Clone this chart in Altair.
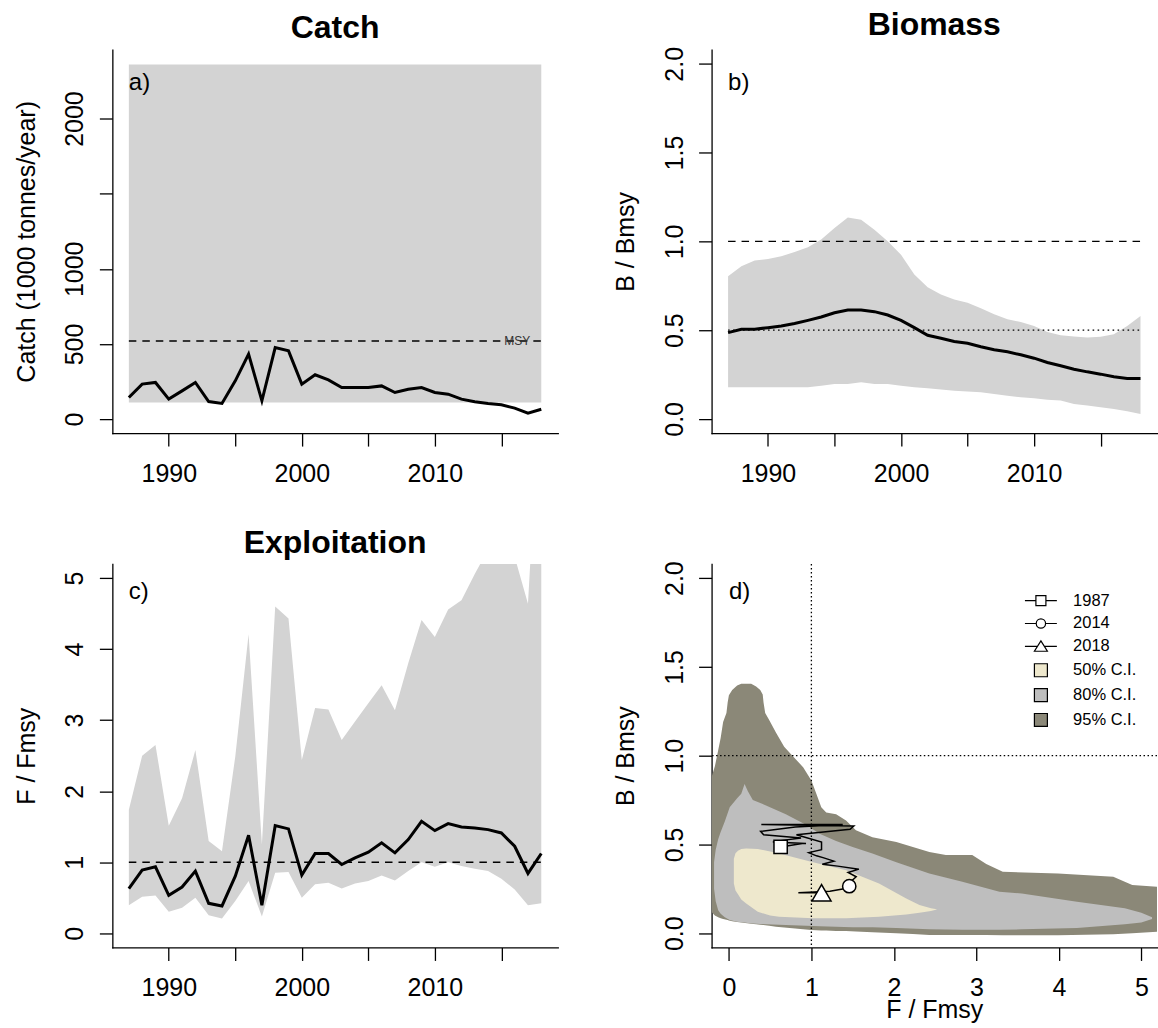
import altair as alt
import pandas as pd

FONT = "Liberation Sans"
GREY = "#D3D3D3"

# ---------------------------------------------------------------- data
years = list(range(1987, 2019))

# catch, 1000 tonnes/year
catch = [144, 233, 244, 133, 188, 244, 117, 104, 255, 432, 122, 476, 454, 233, 295, 261,
         210, 210, 210, 221, 177, 199, 210, 177, 166, 133, 115, 104, 95, 73, 40, 66]
catch_band_lo = 110
catch_band_hi = 2360
msy = 520

# relative biomass B/Bmsy: median and interval
bb_med = [0.486, 0.505, 0.505, 0.514, 0.523, 0.537, 0.555, 0.574, 0.598, 0.613,
          0.613, 0.604, 0.585, 0.555, 0.514, 0.471, 0.454, 0.436, 0.426, 0.406,
          0.389, 0.378, 0.361, 0.342, 0.318, 0.299, 0.280, 0.265, 0.252, 0.237,
          0.228, 0.228]
bb_lo = [0.178, 0.178, 0.178, 0.178, 0.178, 0.178, 0.178, 0.187, 0.196, 0.196,
         0.206, 0.196, 0.196, 0.187, 0.178, 0.172, 0.165, 0.159, 0.155, 0.150,
         0.140, 0.131, 0.122, 0.116, 0.108, 0.103, 0.084, 0.075, 0.065, 0.056,
         0.043, 0.028]
bb_hi = [0.804, 0.860, 0.892, 0.901, 0.916, 0.940, 0.967, 1.010, 1.075, 1.135,
         1.122, 1.066, 1.000, 0.925, 0.813, 0.742, 0.701, 0.673, 0.654, 0.623,
         0.589, 0.561, 0.546, 0.523, 0.490, 0.471, 0.464, 0.458, 0.462, 0.477,
         0.523, 0.580]

# relative fishing mortality F/Fmsy: median and interval
ff_med = [0.627, 0.889, 0.935, 0.533, 0.650, 0.875, 0.421, 0.384, 0.804, 1.380,
          0.393, 1.515, 1.469, 0.819, 1.123, 1.123, 0.968, 1.062, 1.141, 1.272,
          1.132, 1.319, 1.576, 1.445, 1.543, 1.497, 1.483, 1.459, 1.412, 1.225,
          0.842, 1.123]
ff_lo = [0.393, 0.514, 0.533, 0.304, 0.360, 0.500, 0.253, 0.206, 0.454, 0.734,
         0.234, 0.851, 0.861, 0.500, 0.688, 0.711, 0.631, 0.702, 0.734, 0.814,
         0.744, 0.875, 1.001, 0.935, 1.001, 0.945, 0.907, 0.875, 0.767, 0.617,
         0.393, 0.421]
ff_hi = [1.74, 2.50, 2.65, 1.515, 1.90, 2.58, 1.30, 1.155, 2.49, 4.21,
         1.25, 4.60, 4.43, 2.44, 3.17, 3.15, 2.72, 2.98, 3.24, 3.49,
         3.14, 3.80, 4.41, 4.17, 4.56, 4.69, 5.06, 5.40, 5.60, 5.30,
         4.64, 8.00]

# Kobe confidence envelopes (F/Fmsy -> lower/upper B/Bmsy)
ci95_f = [-0.21, -0.17, -0.13, -0.10, -0.07, -0.03, -0.015, 0.0, 0.04, 0.10, 0.15, 0.27,
          0.33, 0.38, 0.41, 0.42, 0.44, 0.49, 0.57, 0.67, 0.77, 0.90, 1.00, 1.06, 1.12,
          1.18, 1.30, 1.42, 1.54, 1.74, 2.03, 2.23, 2.43, 2.63, 2.95, 3.12, 3.32, 3.99,
          4.66, 4.89, 5.25]
ci95_lo = [0.12, 0.10, 0.09, 0.085, 0.08, 0.076, 0.074, 0.072, 0.068, 0.063, 0.06, 0.053,
           0.05, 0.048, 0.046, 0.046, 0.045, 0.042, 0.037, 0.032, 0.028, 0.022, 0.018, 0.017,
           0.016, 0.015, 0.013, 0.012, 0.01, 0.005, 0.0, -0.005, -0.01, -0.01, -0.01, -0.01,
           -0.012, -0.012, -0.006, 0.0, 0.01]
ci95_hi = [0.88, 0.94, 1.03, 1.10, 1.19, 1.24, 1.30, 1.34, 1.37, 1.395, 1.405, 1.405,
           1.39, 1.37, 1.345, 1.30, 1.24, 1.20, 1.13, 1.05, 1.00, 0.935, 0.86, 0.785, 0.71,
           0.68, 0.67, 0.635, 0.58, 0.54, 0.514, 0.486, 0.458, 0.44, 0.44, 0.39, 0.346, 0.336,
           0.318, 0.271, 0.26]

ci80_f = [-0.18, -0.16, -0.13, -0.10, -0.05, 0.01, 0.10, 0.15, 0.19, 0.23, 0.29, 0.45,
          0.69, 0.94, 1.10, 1.30, 1.50, 1.74, 2.03, 2.43, 2.83, 3.28, 3.55, 4.22, 4.80,
          5.00, 5.13]
ci80_lo = [0.25, 0.18, 0.13, 0.11, 0.09, 0.075, 0.065, 0.062, 0.06, 0.058, 0.055, 0.05,
           0.046, 0.042, 0.04, 0.036, 0.034, 0.034, 0.03, 0.022, 0.019, 0.019, 0.022, 0.03,
           0.05, 0.06, 0.08]
ci80_hi = [0.40, 0.47, 0.53, 0.57, 0.63, 0.71, 0.76, 0.785, 0.84, 0.80, 0.75, 0.72,
           0.67, 0.61, 0.56, 0.52, 0.486, 0.449, 0.40, 0.336, 0.29, 0.234, 0.224, 0.178,
           0.14, 0.115, 0.09]

ci50_f = [0.06, 0.08, 0.11, 0.15, 0.21, 0.35, 0.50, 0.61, 1.02, 1.42, 1.82, 2.15, 2.31,
          2.45, 2.52]
ci50_lo = [0.28, 0.24, 0.22, 0.19, 0.168, 0.121, 0.10, 0.093, 0.084, 0.084, 0.093, 0.105,
           0.115, 0.125, 0.133]
ci50_hi = [0.42, 0.45, 0.465, 0.475, 0.477, 0.475, 0.46, 0.449, 0.40, 0.355, 0.28, 0.196,
           0.159, 0.14, 0.135]

marker_years = [1987, 2014, 2018]
legend_keys = ["1987", "2014", "2018", "50% C.I.", "80% C.I.", "95% C.I."]
legend_fills = ["white", "white", "white", "#EEE8CD", "#BEBEBE", "#8B8878"]
legend_strokes = ["black", "black", "black", "black", "black", "black"]

# ---------------------------------------------------------------- layout
W, H = 446, 384
COL_GAP, ROW_GAP = 154, 131
YEAR_DOM = [1985.76, 2019.24]
CATCH_DOM = [-93.0, 2458.5]
B_DOM = [-0.08, 2.08]
F_DOM = [-0.2, 5.2]
KOBE_F_DOM = [-0.21, 5.19]

COMMON_AXIS = dict(domainColor="black", domainWidth=1.3, domainCap="square",
                   tickColor="black", tickWidth=1.3, tickSize=13,
                   labelFont=FONT, labelFontSize=25, labelColor="black",
                   titleFont=FONT, titleFontSize=25, titleFontWeight="normal",
                   titleColor="black", grid=False, labelOverlap=False, labelFlush=False)


def left_axis(title, values, fmt, label_expr=None):
    kw = dict(COMMON_AXIS, title=title, values=values, format=fmt,
              labelAngle=270, labelAlign="center", labelBaseline="alphabetic",
              labelPadding=16.6, titleAngle=270, titleX=-78.4, titleY=H / 2,
              titleAlign="center", titleBaseline="alphabetic")
    if label_expr:
        kw["labelExpr"] = label_expr
    return alt.Axis(**kw)


def bottom_axis(title, values, fmt, label_expr=None):
    kw = dict(COMMON_AXIS, values=values, format=fmt,
              labelAngle=0, labelAlign="center", labelBaseline="alphabetic",
              labelPadding=35)
    if title:
        kw.update(title=title, titleX=W / 2, titleY=70, titleAlign="center",
                  titleBaseline="alphabetic", titleAngle=0)
    else:
        kw["title"] = None
    if label_expr:
        kw["labelExpr"] = label_expr
    return alt.Axis(**kw)


def lin(domain):
    return alt.Scale(domain=domain, nice=False, zero=False)


def title(text):
    return alt.TitleParams(text, font=FONT, fontSize=32, fontWeight="bold", color="black",
                           anchor="middle", baseline="alphabetic", offset=-20.8)


YEAR_SCALE = lin(YEAR_DOM)
YEAR_AXIS = bottom_axis(None, [1990, 1995, 2000, 2005, 2010, 2015], "d",
                        "datum.value % 10 === 0 ? datum.label : ''")


def tag(label, x, ytop, xenc, yenc, dy):
    df = pd.DataFrame({"x": [x], "y": [ytop], "t": [label]})
    return alt.Chart(df).mark_text(align="left", baseline="alphabetic", font=FONT,
                                   fontSize=24, color="black", dy=dy).encode(
        x=xenc("x"), y=yenc("y"), text="t:N")


# ---------------------------------------------------------------- a) catch
sa = lin(CATCH_DOM)
axis_a = left_axis("Catch (1000 tonnes/year)", [0, 500, 1000, 1500, 2000], "d",
                   "datum.value === 1500 ? '' : datum.label")


def xa(f):
    return alt.X(f"{f}:Q", scale=YEAR_SCALE, axis=YEAR_AXIS)


def ya(f):
    return alt.Y(f"{f}:Q", scale=sa, axis=axis_a)


ts = pd.DataFrame({"year": years, "catch": catch, "bb": bb_med, "bb_lo": bb_lo,
                   "bb_hi": bb_hi, "ff": ff_med, "ff_lo": ff_lo, "ff_hi": ff_hi})

band_a = alt.Chart(pd.DataFrame({"x1": [years[0]], "x2": [years[-1]],
                                 "lo": [catch_band_lo], "hi": [catch_band_hi]})).mark_rect(
    color=GREY).encode(x=xa("x1"), x2="x2:Q", y=ya("lo"), y2="hi:Q")

msy_df = pd.DataFrame({"x1": [years[0]], "x2": [years[-1]], "v": [msy],
                       "xt": [2016.2], "t": ["MSY"]})
msy_rule = alt.Chart(msy_df).mark_rule(color="black", strokeWidth=1.4,
                                       strokeDash=[7.5, 6]).encode(
    x=xa("x1"), x2="x2:Q", y=ya("v"))
msy_text = alt.Chart(msy_df).mark_text(font=FONT, fontSize=12, color="#333333",
                                       baseline="middle").encode(
    x=xa("xt"), y=ya("v"), text="t:N")
catch_line = alt.Chart(ts).mark_line(color="black", strokeWidth=3).encode(
    x=xa("year"), y=ya("catch"))

panel_a = alt.layer(band_a, msy_rule, msy_text, catch_line,
                    tag("a)", years[0], CATCH_DOM[1], xa, ya, 40)).properties(
    width=W, height=H, title=title("Catch"))

# ---------------------------------------------------------------- b) biomass
sb = lin(B_DOM)
axis_b = left_axis("B / Bmsy", [0, 0.5, 1, 1.5, 2], ".1f")


def yb(f):
    return alt.Y(f"{f}:Q", scale=sb, axis=axis_b)


band_b = alt.Chart(ts).mark_area(color=GREY, clip=True).encode(
    x=xa("year"), y=yb("bb_lo"), y2="bb_hi:Q")
ref_b = pd.DataFrame({"x1": [years[0]], "x2": [years[-1]], "one": [1.0], "half": [0.5]})
dash_b = alt.Chart(ref_b).mark_rule(color="black", strokeWidth=1.4,
                                    strokeDash=[7.5, 6]).encode(
    x=xa("x1"), x2="x2:Q", y=yb("one"))
dot_b = alt.Chart(ref_b).mark_rule(color="black", strokeWidth=1.4,
                                   strokeDash=[1.6, 3.4]).encode(
    x=xa("x1"), x2="x2:Q", y=yb("half"))
line_b = alt.Chart(ts).mark_line(color="black", strokeWidth=3).encode(
    x=xa("year"), y=yb("bb"))

panel_b = alt.layer(band_b, dash_b, dot_b, line_b,
                    tag("b)", years[0], B_DOM[1], xa, yb, 40)).properties(
    width=W, height=H, title=title("Biomass"))

# ---------------------------------------------------------------- c) exploitation
sc = lin(F_DOM)
axis_c = left_axis("F / Fmsy", [0, 1, 2, 3, 4, 5], "d")


def yc(f):
    return alt.Y(f"{f}:Q", scale=sc, axis=axis_c)


band_c = alt.Chart(ts).mark_area(color=GREY, clip=True).encode(
    x=xa("year"), y=yc("ff_lo"), y2="ff_hi:Q")
ref_c = pd.DataFrame({"x1": [years[0]], "x2": [years[-1]], "one": [1.0]})
dash_c = alt.Chart(ref_c).mark_rule(color="black", strokeWidth=1.4,
                                    strokeDash=[7.5, 6]).encode(
    x=xa("x1"), x2="x2:Q", y=yc("one"))
line_c = alt.Chart(ts).mark_line(color="black", strokeWidth=3).encode(
    x=xa("year"), y=yc("ff"))

panel_c = alt.layer(band_c, dash_c, line_c,
                    tag("c)", years[0], F_DOM[1], xa, yc, 35)).properties(
    width=W, height=H, title=title("Exploitation"))

# ---------------------------------------------------------------- d) Kobe plot
sdx = lin(KOBE_F_DOM)
sdy = lin(B_DOM)
axis_dx = bottom_axis("F / Fmsy", [0, 1, 2, 3, 4, 5], "d")
axis_dy = left_axis("B / Bmsy", [0, 0.5, 1, 1.5, 2], ".1f")


def xd(f):
    return alt.X(f"{f}:Q", scale=sdx, axis=axis_dx)


def yd(f):
    return alt.Y(f"{f}:Q", scale=sdy, axis=axis_dy)


FILL_SCALE = alt.Scale(domain=legend_keys, range=legend_fills)
STROKE_SCALE = alt.Scale(domain=legend_keys, range=legend_strokes)

# legend glyphs: a short line through an open marker, then plain squares
sym_square = "M-2.46,0H-0.77M0.77,0H2.46M-0.77,-0.77H0.77V0.77H-0.77Z"
sym_circle = ("M-2.46,0H-0.72M0.72,0H2.46M-0.72,0A0.72,0.72 0 1,0 0.72,0"
              "A0.72,0.72 0 1,0 -0.72,0Z")
sym_triangle = "M-2.46,0H-0.53M0.53,0H2.46M0,-0.85L1,0.75H-1Z"
SHAPE_SCALE = alt.Scale(domain=legend_keys,
                        range=[sym_square, sym_circle, sym_triangle,
                               "square", "square", "square"])

# the legend is placed in the root frame, so offset it into the lower-right panel
KEY_LEGEND = alt.Legend(title=None, orient="none",
                        legendX=W + COL_GAP + 321.5, legendY=H + ROW_GAP + 28.5,
                        symbolSize=169, symbolStrokeWidth=1.2, symbolStrokeColor="black",
                        symbolOpacity=1, labelFont=FONT, labelFontSize=16.5,
                        labelColor="black", labelOffset=24, rowPadding=5.9, padding=0,
                        labelLimit=0)


def envelope(key, f, lo, hi):
    df = pd.DataFrame({"F": f, "lo": lo, "hi": hi, "key": key})
    return alt.Chart(df).mark_area(clip=True, interpolate="linear").encode(
        x=xd("F"), y=yd("lo"), y2="hi:Q",
        fill=alt.Fill("key:N", scale=FILL_SCALE, legend=KEY_LEGEND))


env95 = envelope("95% C.I.", ci95_f, ci95_lo, ci95_hi)
env80 = envelope("80% C.I.", ci80_f, ci80_lo, ci80_hi)
env50 = envelope("50% C.I.", ci50_f, ci50_lo, ci50_hi)

ref_d = pd.DataFrame({"one": [1.0]})
vline = alt.Chart(ref_d).mark_rule(color="black", strokeWidth=1.3,
                                   strokeDash=[1.5, 2.5]).encode(x=xd("one"))
hline = alt.Chart(ref_d).mark_rule(color="black", strokeWidth=1.3,
                                   strokeDash=[1.5, 2.5]).encode(y=yd("one"))

kobe = pd.DataFrame({"year": years, "F": ff_med, "B": bb_med})
traj = alt.Chart(kobe).mark_line(color="black", strokeWidth=1.5).encode(
    x=xd("F"), y=yd("B"), order=alt.Order("year:Q"))

marks = kobe[kobe["year"].isin(marker_years)].copy()
marks["key"] = marks["year"].astype(str)


def marker(year, shape, size):
    return alt.Chart(marks[marks["year"] == year]).mark_point(
        shape=shape, size=size, filled=True, fill="white", stroke="black",
        strokeWidth=1.5, opacity=1).encode(x=xd("F"), y=yd("B"))


# key glyphs for the legend; drawn first, underneath the envelopes
key_layer = alt.Chart(marks).mark_point(filled=True, strokeWidth=1.2).encode(
    x=xd("F"), y=yd("B"),
    fill=alt.Fill("key:N", scale=FILL_SCALE, legend=KEY_LEGEND),
    stroke=alt.Stroke("key:N", scale=STROKE_SCALE, legend=KEY_LEGEND),
    shape=alt.Shape("key:N", scale=SHAPE_SCALE, legend=KEY_LEGEND),
    size=alt.value(169))

panel_d = alt.layer(key_layer, env95, env80, env50, vline, hline, traj,
                    marker(1987, "square", 177), marker(2014, "circle", 177),
                    marker(2018, "triangle-up", 361),
                    tag("d)", 0.0, B_DOM[1], xd, yd, 35)).properties(width=W, height=H)

# ---------------------------------------------------------------- assemble
chart = alt.concat(panel_a, panel_b, panel_c, panel_d, columns=2,
                   spacing={"row": ROW_GAP, "column": COL_GAP}, bounds="flush").properties(
    padding={"left": 13.5, "top": 8, "right": 0, "bottom": 0},
    background="white").configure_view(stroke=None)

chart.save("out.html", embed_options={"renderer": "svg", "actions": False})
